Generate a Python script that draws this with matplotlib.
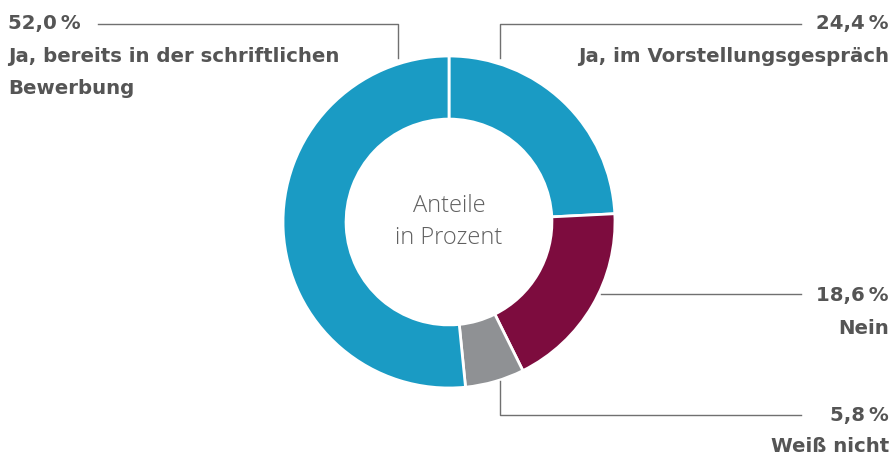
import matplotlib.pyplot as plt

labels = ["Ja, im Vorstellungsgespräch", "Nein", "Weiß nicht", "Ja, bereits in der schriftlichen\nBewerbung"]
values = [24.4, 18.6, 5.8, 52.0]
colors = ["#1a9bc4", "#7d0c3e", "#8f9194", "#1a9bc4"]

plt.rcParams['font.family'] = ['DejaVu Sans']

W, H = 893, 459
fig = plt.figure(figsize=(W / 100, H / 100), dpi=100)

# donut, centre (449, 222) px, outer radius 166 px
cx, cy, r = 449, 222, 166
ax = fig.add_axes([(cx - r) / W, (H - cy - r) / H, 2 * r / W, 2 * r / H])
ax.pie(values, colors=colors, startangle=90, counterclock=False,
       wedgeprops=dict(width=0.38, edgecolor='white', linewidth=2))
ax.set_xlim(-1, 1)
ax.set_ylim(-1, 1)
ax.set_aspect('equal')
ax.axis('off')

# overlay in pixel coordinates for the labels and leader lines
ov = fig.add_axes([0, 0, 1, 1])
ov.set_xlim(0, W)
ov.set_ylim(H, 0)
ov.axis('off')
ov.patch.set_alpha(0)

txt = '#555555'
lc = '#707070'
fs = 14.2

def pct(v):
    return f"{v:.1f}".replace('.', ',') + '\u2009%'

def label(x, y, s, ha):
    ov.text(x, y, s, ha=ha, va='center', fontsize=fs, fontweight='bold', color=txt)

# left label (52,0)
ov.plot([98, 398, 398], [24, 24, 58], color=lc, lw=1)
label(8, 24, pct(values[3]), 'left')
label(8, 57, "Ja, bereits in der schriftlichen", 'left')
label(8, 88, "Bewerbung", 'left')

# right labels
ov.plot([500, 500, 801], [58, 24, 24], color=lc, lw=1)
label(889, 24, pct(values[0]), 'right')
label(889, 56, labels[0], 'right')

ov.plot([601, 801], [294, 294], color=lc, lw=1)
label(889, 295, pct(values[1]), 'right')
label(889, 328, labels[1], 'right')

ov.plot([500, 500, 801], [381, 415, 415], color=lc, lw=1)
label(889, 416, pct(values[2]), 'right')
label(889, 446, labels[2], 'right')

# centre text
ov.text(cx, 206, "Anteile", ha='center', va='center', fontsize=17, color='#606060',
        family=['Open Sans', 'DejaVu Sans'], fontweight='light')
ov.text(cx, 238, "in Prozent", ha='center', va='center', fontsize=17, color='#606060',
        family=['Open Sans', 'DejaVu Sans'], fontweight='light')

fig.savefig('out.png', dpi=100)
